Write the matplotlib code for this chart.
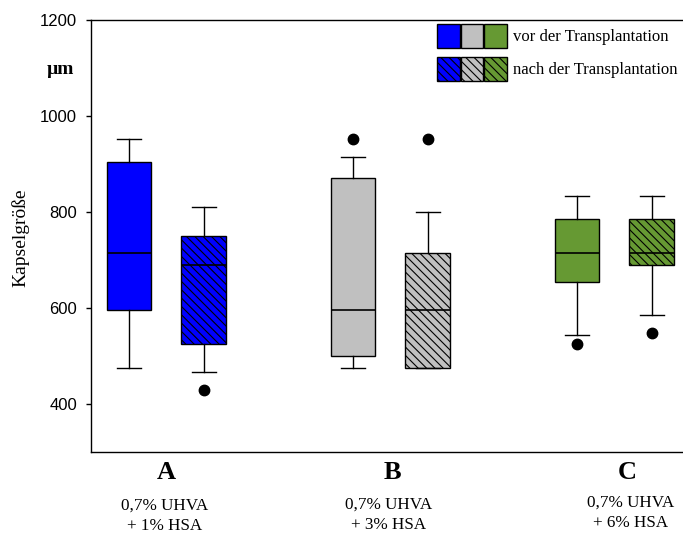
import matplotlib
matplotlib.use('Agg')
import matplotlib.pyplot as plt
from matplotlib.patches import Patch
from matplotlib.legend_handler import HandlerTuple

plt.rcParams['font.family'] = 'Liberation Sans'
plt.rcParams['hatch.linewidth'] = 0.8

groups = ['A', 'B', 'C']
conditions = ['0,7% UHVA\n+ 1% HSA', '0,7% UHVA\n+ 3% HSA', '0,7% UHVA\n+ 6% HSA']
colors = ['#0000ff', '#c0c0c0', '#669933']
labels = ['vor der Transplantation', 'nach der Transplantation']

# Kapselgröße (µm), order: A vor, A nach, B vor, B nach, C vor, C nach
whislo = [476, 467, 476, 476, 543, 585]
q1 = [595, 524, 500, 476, 655, 690]
med = [715, 690, 595, 595, 715, 715]
q3 = [905, 751, 870, 714, 785, 785]
whishi = [952, 810, 915, 801, 834, 834]
fliers = [[], [429], [953], [953], [524], [548]]

serif = 'Liberation Serif'
hatch = '\\\\\\\\'

fig = plt.figure(figsize=(6.83, 5.33), dpi=100)
ax = fig.add_axes([0.1332, 0.152, 0.8668, 0.8105])

stats = []
for i in range(6):
    stats.append(dict(whislo=whislo[i], q1=q1[i], med=med[i], q3=q3[i],
                      whishi=whishi[i], fliers=fliers[i]))

pos = []
for g in range(3):
    pos += [g + 1 - 0.167, g + 1 + 0.167]

bp = ax.bxp(stats, positions=pos, widths=0.2, capwidths=0.11, patch_artist=True,
            boxprops=dict(edgecolor='black', linewidth=1.0),
            medianprops=dict(color='black', linewidth=1.2),
            whiskerprops=dict(color='black', linewidth=1.0),
            capprops=dict(color='black', linewidth=1.0),
            flierprops=dict(marker='o', markerfacecolor='black', markeredgecolor='black',
                            markersize=7.5))

for i, box in enumerate(bp['boxes']):
    box.set_facecolor(colors[i // 2])
    if i % 2 == 1:
        box.set_hatch(hatch)

ax.set_xlim(0.663, 3.306)
ax.set_ylim(300, 1200)
ax.set_yticks([400, 600, 800, 1000, 1200])
ax.set_xticks([])
ax.tick_params(axis='y', direction='out', length=3.6, width=1.0, pad=6.5, labelsize=12)
ax.spines['right'].set_visible(False)
for s in ['left', 'top', 'bottom']:
    ax.spines[s].set_linewidth(1.0)

# Gruppenbeschriftung unter der Achse (y = Grundlinie der zweiten Zeile)
trans = ax.get_xaxis_transform()
letter_x = [1.0, 2.007, 3.056]
cond_x = [0.991, 1.991, 3.074]
cond_y = [-0.180, -0.178, -0.174]
for g in range(3):
    ax.text(letter_x[g], -0.062, groups[g], transform=trans, ha='center', va='baseline',
            family=serif, fontsize=19, fontweight='bold')
    ax.text(cond_x[g], cond_y[g], conditions[g], transform=trans, ha='center', va='baseline',
            family=serif, fontsize=12.3, linespacing=1.38)

fig.text(20 / 683, 1 - 238 / 533, 'Kapselgröße', rotation=90, ha='center', va='center',
         family=serif, fontsize=14)
fig.text(60 / 683, 1 - 69 / 533, 'µm', ha='center', va='center',
         family=serif, fontsize=14, fontweight='bold')

# Legende: drei Farbfelder pro Zeile
vor = tuple(Patch(facecolor=c, edgecolor='black', linewidth=1.0) for c in colors)
nach = tuple(Patch(facecolor=c, edgecolor='black', linewidth=1.0, hatch=hatch) for c in colors)
ax.legend([vor, nach], labels, handler_map={tuple: HandlerTuple(ndivide=None, pad=0.06)},
          loc='upper left', bbox_to_anchor=(437.3 / 683, 1 - 24 / 533),
          bbox_transform=fig.transFigure, frameon=False, borderpad=0, borderaxespad=0,
          handlelength=4.15, handleheight=1.83, labelspacing=0.53, handletextpad=0.37,
          prop=dict(family=serif, size=12.1))

plt.savefig('out.png', dpi=100)
